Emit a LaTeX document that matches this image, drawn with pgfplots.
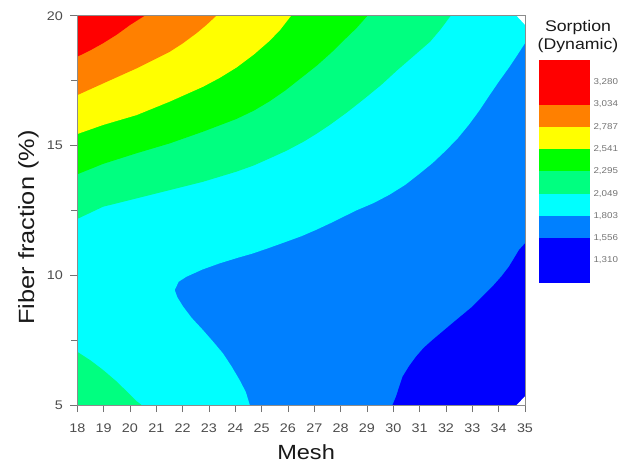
\documentclass[border=0pt]{standalone}
\usepackage{fontspec}
\setmainfont{Liberation Sans}[FakeStretch=1.15]
\usepackage{pgfplots}
\pgfplotsset{compat=1.18}
\definecolor{cRed}{RGB}{255,0,0}
\definecolor{cOrange}{RGB}{255,128,0}
\definecolor{cYellow}{RGB}{255,255,0}
\definecolor{cGreen}{RGB}{0,255,0}
\definecolor{cSpring}{RGB}{0,255,128}
\definecolor{cCyan}{RGB}{0,255,255}
\definecolor{cAzure}{RGB}{0,128,255}
\definecolor{cBlue}{RGB}{0,0,255}
\begin{document}
\begin{tikzpicture}
\useasboundingbox (-77.3pt,-58pt) rectangle (552.7pt,405pt);
\begin{axis}[
  at={(0pt,0pt)}, anchor=south west,
  width=447.7pt, height=389.3pt, scale only axis,
  xmin=18, xmax=35, ymin=5, ymax=20,
  xtick={18,19,...,35}, ytick={5,10,15,20}, minor ytick={7.5,12.5,17.5},
  tick align=outside, xtick pos=bottom, ytick pos=left,
  major tick length=7pt, minor tick length=6pt,
  tick style={color=black!55, line width=0.8pt},
  axis line style={draw=black!45, line width=0.8pt},
  axis on top,
  ticklabel style={font=\fontsize{12.5}{15}\selectfont, text=black!70},
  xticklabel style={yshift=-8pt},
  yticklabel style={xshift=-4pt},
  /pgf/number format/assume math mode=true,
  xlabel={Mesh}, ylabel={Fiber fraction (\%)},
  xlabel style={font=\fontsize{20.5}{25}\selectfont, text=black!90, at={(axis description cs:0.511,-0.1412)}, anchor=base},
  ylabel style={font=\fontsize{22}{25}\selectfont, text=black!90, at={(axis description cs:-0.0966,0.456)}, anchor=base},
]
% azure background
\addplot[fill=cAzure, draw=none] coordinates {(18,5)(35,5)(35,20)(18,20)} -- cycle;
% cyan and above
\addplot[fill=cCyan, draw=none] coordinates {
(24.55,5)(24.40,5.5)(24.16,5.97)(23.85,6.5)(23.53,6.99)(23.15,7.45)(22.77,7.89)(22.35,8.35)(22.02,8.79)(21.80,9.15)(21.70,9.43)(21.85,9.75)(22.14,9.94)(22.75,10.22)
(23.41,10.46)(24.05,10.66)(24.67,10.84)(25.30,11.06)(25.93,11.29)(26.5,11.5)(27.05,11.74)(27.6,12.0)(28.6,12.5)(29.25,12.78)(29.85,13.1)(30.45,13.48)
(30.98,13.9)(31.5,14.33)(31.99,14.8)(32.45,15.28)(32.87,15.8)(33.27,16.35)(33.63,16.9)(34.0,17.45)(34.39,18.0)(34.7,18.47)(35,18.94)(35,20)(18,20)(18,5)} -- cycle;
% spring green upper
\addplot[fill=cSpring, draw=none] coordinates {
(18,12.17)(18.98,12.64)(20.25,12.96)(21.51,13.28)(22.77,13.60)(24.04,13.99)(24.7,14.23)(25.30,14.50)(25.95,14.8)
(26.6,15.15)(27.1,15.46)(27.6,15.8)(28.25,16.28)(28.9,16.8)(29.55,17.34)(30.15,17.9)(30.8,18.47)(31.4,19.0)(31.8,19.48)(32.18,20)(18,20)} -- cycle;
% spring green lower-left
\addplot[fill=cSpring, draw=none] coordinates {
(18,5)(20.44,5)(20.25,5.15)(20.0,5.4)(19.5,5.9)(18.98,6.35)(18.5,6.72)(18,7.05)} -- cycle;
% green
\addplot[fill=cGreen, draw=none] coordinates {
(18,13.89)(18.98,14.29)(20.25,14.70)(21.51,15.08)(22.77,15.53)(24.04,16.02)(24.7,16.34)(25.30,16.70)(25.9,17.12)
(26.5,17.6)(27.1,18.08)(27.65,18.58)(28.1,19.03)(28.6,19.52)(29.02,20)(18,20)} -- cycle;
% yellow
\addplot[fill=cYellow, draw=none] coordinates {
(18,15.44)(18.98,15.79)(20.25,16.17)(21.51,16.69)(22.77,17.26)(23.4,17.6)(24.04,18.0)(24.7,18.5)(25.30,19.03)(25.7,19.45)
(26.12,20)(18,20)} -- cycle;
% orange
\addplot[fill=cOrange, draw=none] coordinates {
(18,16.94)(18.98,17.39)(20.25,17.97)(21.51,18.61)(22.0,18.93)(22.52,19.32)(22.9,19.64)(23.28,20)(18,20)} -- cycle;
% red
\addplot[fill=cRed, draw=none] coordinates {
(18,18.42)(18.5,18.67)(18.98,18.94)(19.5,19.27)(20.0,19.64)(20.56,20)(18,20)} -- cycle;
% blue
\addplot[fill=cBlue, draw=none] coordinates {
(29.97,5)(30.10,5.32)(30.35,6.09)(30.6,6.5)(30.86,6.86)(31.15,7.2)(31.48,7.50)(32.24,8.15)(33.0,8.79)
(33.76,9.56)(34.1,9.95)(34.39,10.33)(34.77,10.97)(35,11.23)(35,5)} -- cycle;
% blank corners
\addplot[fill=white, draw=none] coordinates {(34.68,20)(35,20)(35,19.65)} -- cycle;
\addplot[fill=white, draw=none] coordinates {(34.68,5)(35,5)(35,5.33)} -- cycle;
\end{axis}
\begin{axis}[
  at={(462pt,122.3pt)}, anchor=south west,
  width=50.7pt, height=222.7pt, scale only axis,
  xmin=0, xmax=1, ymin=0, ymax=10,
  xtick=\empty, ytick={1,2,...,9},
  yticklabels={{1,310},{1,556},{1,803},{2,049},{2,295},{2,541},{2,787},{3,034},{3,280}},
  yticklabel pos=right, major tick length=0pt,
  axis line style={draw=none},
  yticklabel style={font=\fontsize{8.5}{10}\selectfont, text=black!55},
  clip=false,
]
\addplot[fill=cBlue, draw=none] coordinates {(0,0)(1,0)(1,2)(0,2)} -- cycle;
\addplot[fill=cAzure, draw=none] coordinates {(0,2)(1,2)(1,3)(0,3)} -- cycle;
\addplot[fill=cCyan, draw=none] coordinates {(0,3)(1,3)(1,4)(0,4)} -- cycle;
\addplot[fill=cSpring, draw=none] coordinates {(0,4)(1,4)(1,5)(0,5)} -- cycle;
\addplot[fill=cGreen, draw=none] coordinates {(0,5)(1,5)(1,6)(0,6)} -- cycle;
\addplot[fill=cYellow, draw=none] coordinates {(0,6)(1,6)(1,7)(0,7)} -- cycle;
\addplot[fill=cOrange, draw=none] coordinates {(0,7)(1,7)(1,8)(0,8)} -- cycle;
\addplot[fill=cRed, draw=none] coordinates {(0,8)(1,8)(1,10)(0,10)} -- cycle;
\node[anchor=base, font=\fontsize{15.4}{18}\selectfont, text=black!90] at (axis description cs:0.763,1.127) {Sorption};
\node[anchor=base, font=\fontsize{15.4}{18}\selectfont, text=black!90] at (axis description cs:0.763,1.048) {(Dynamic)};
\end{axis}
\end{tikzpicture}
\end{document}
